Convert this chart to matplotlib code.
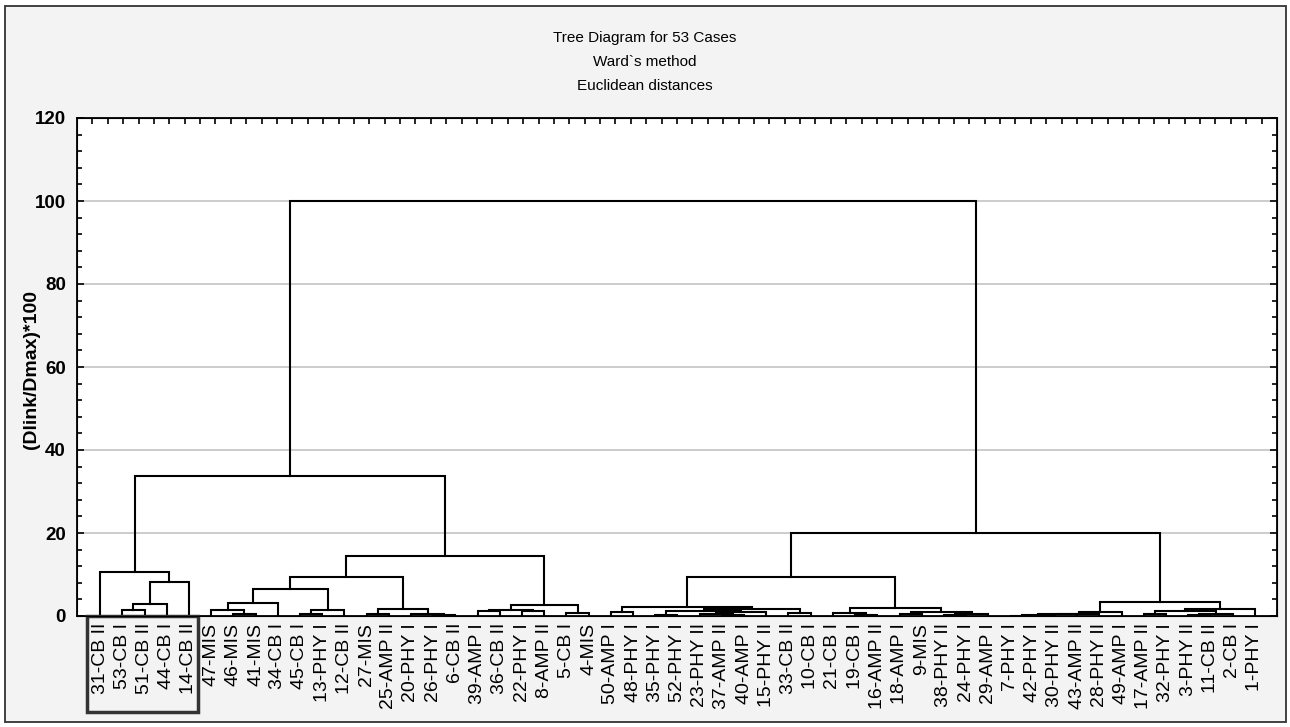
import matplotlib
matplotlib.use("Agg")
import matplotlib.pyplot as plt
from matplotlib.patches import Rectangle
import matplotlib.transforms as mtransforms

# Leaf labels in dendrogram order
leaf_labels = [
    "31-CB II", "53-CB I", "51-CB II", "44-CB I", "14-CB II",
    "47-MIS", "46-MIS", "41-MIS", "34-CB I", "45-CB I", "13-PHY I",
    "12-CB II", "27-MIS", "25-AMP II", "20-PHY I", "26-PHY I", "6-CB II",
    "39-AMP I", "36-CB II", "22-PHY I", "8-AMP II", "5-CB I", "4-MIS",
    "50-AMP I", "48-PHY I", "35-PHY I", "52-PHY I", "23-PHY II",
    "37-AMP II", "40-AMP I", "15-PHY II", "33-CB II", "10-CB I", "21-CB I",
    "19-CB I", "16-AMP II", "18-AMP I", "9-MIS", "38-PHY II", "24-PHY I",
    "29-AMP I", "7-PHY I", "42-PHY I", "30-PHY II", "43-AMP II",
    "28-PHY II", "49-AMP I", "17-AMP II", "32-PHY I", "3-PHY II",
    "11-CB II", "2-CB I", "1-PHY I",
]

# Merges (scipy-like: ids >= 53 are clusters created by earlier merges)
merge_left = [1, 53, 54, 0, 6, 5, 58, 9, 60, 59, 12, 15, 14, 63, 62,
              17, 19, 68, 21, 70, 67, 56,
              23, 25, 28, 27, 78, 76, 31, 80, 75, 34, 33, 36, 38, 87, 86,
              85, 83, 41, 92, 93, 94, 95, 47, 49, 98, 97, 100, 96, 91, 74]
merge_right = [2, 3, 4, 55, 7, 57, 8, 10, 11, 61, 13, 16, 64, 65, 66,
               18, 20, 69, 22, 71, 72, 73,
               24, 26, 29, 77, 30, 79, 32, 81, 82, 35, 84, 37, 39, 40, 88,
               89, 90, 42, 43, 44, 45, 46, 48, 50, 51, 99, 52, 101, 102, 103]
merge_height = [1.4, 2.8, 8.1, 10.5, 0.5, 1.4, 3.2, 0.5, 1.4, 6.6, 0.6,
                0.2, 0.6, 1.8, 9.3, 1.1, 1.1, 1.4, 0.7, 2.6, 14.5, 33.8,
                1.0, 0.3, 0.3, 0.6, 0.9, 1.3, 0.8, 1.8, 2.2, 0.3, 0.8, 0.6,
                0.3, 0.4, 1.0, 2.0, 9.3, 0.1, 0.2, 0.4, 0.6, 0.9, 0.4, 0.2,
                0.5, 1.2, 1.8, 3.3, 20.0, 100.0]

plt.rcParams["font.family"] = ["Liberation Sans", "DejaVu Sans"]

fig = plt.figure(figsize=(12.9, 7.27), dpi=100)
fig.patch.set_facecolor("white")

# outer panel
fig.add_artist(Rectangle((5 / 1290, 5 / 727), 1281 / 1290, 716 / 727,
                         transform=fig.transFigure, facecolor="#f3f3f3",
                         edgecolor="#333333", linewidth=1.3, zorder=-10))

ax = fig.add_axes([77 / 1290, 1 - 616 / 727, 1200 / 1290, 498 / 727])
ax.set_zorder(1)
ax.set_facecolor("white")

n = len(leaf_labels)
pos = {i: float(i) for i in range(n)}
hgt = {i: 0.0 for i in range(n)}
for k, (a, b, h) in enumerate(zip(merge_left, merge_right, merge_height)):
    xa, xb = pos[a], pos[b]
    ax.plot([xa, xa, xb, xb], [hgt[a], h, h, hgt[b]], color="black",
            linewidth=1.5, solid_joinstyle="miter", zorder=3)
    pos[n + k] = (xa + xb) / 2
    hgt[n + k] = h

ax.set_xlim(-1.04, 53.0)
ax.set_ylim(0, 120)

# top ticks (drawn first so they do not disturb the shared y axis)
top = ax.twiny()
top.set_xlim(0, 78)
top.set_xticks(range(1, 78))
top.tick_params(axis="x", direction="in", length=4, width=1.2, labeltop=False)

ax.set_yticks(range(0, 121, 20))
ax.set_yticks(range(0, 121, 4), minor=True)
ax.set_yticklabels([str(v) for v in range(0, 121, 20)], fontsize=13.5,
                   fontweight="bold")
ax.tick_params(axis="y", which="both", direction="in", left=True, right=True,
               width=1.2, color="black", pad=8)
ax.tick_params(axis="y", which="major", length=5)
ax.tick_params(axis="y", which="minor", length=3.5)

ax.set_xticks(range(n))
ax.set_xticklabels(leaf_labels, rotation=90, fontsize=14)
ax.tick_params(axis="x", length=0, pad=5)

for g in range(20, 101, 20):
    ax.axhline(g, color="#c4c4c4", linewidth=1.2, zorder=1)

for s in ax.spines.values():
    s.set_linewidth(1.3)
    s.set_color("black")

# box around first five labels
trans = mtransforms.blended_transform_factory(ax.transData, ax.transAxes)
ax.add_patch(Rectangle((-0.59, -0.193), 5.0, 0.193, transform=trans,
                       fill=False, edgecolor="#333333", linewidth=2.5,
                       clip_on=False, zorder=5))

fig.text(0.5, 1 - 38 / 727, "Tree Diagram for 53 Cases", ha="center",
         va="center", fontsize=11)
fig.text(0.5, 1 - 62 / 727, "Ward`s method", ha="center", va="center",
         fontsize=11)
fig.text(0.5, 1 - 86 / 727, "Euclidean distances", ha="center", va="center",
         fontsize=11)
fig.text(32 / 1290, 1 - 370 / 727, "(Dlink/Dmax)*100", rotation=90,
         ha="center", va="center", fontsize=14, fontweight="bold")

plt.savefig("out.png", dpi=100)
